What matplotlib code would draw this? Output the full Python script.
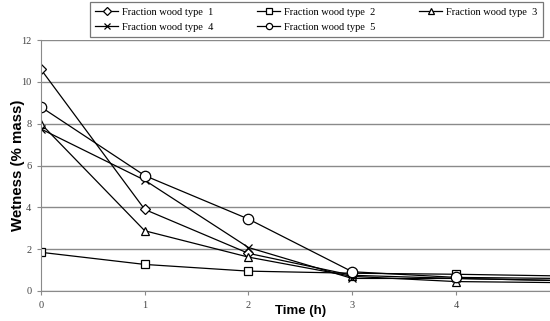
import matplotlib
matplotlib.use("Agg")
import matplotlib.pyplot as plt

# 数据（从图上读出来的估计值）
time_h = [0, 1, 2, 3, 4, 5]
type1 = [10.6, 3.9, 1.8, 0.75, 0.6, 0.5]
type2 = [1.85, 1.27, 0.95, 0.85, 0.8, 0.72]
type3 = [8.0, 2.88, 1.62, 0.7, 0.45, 0.4]
type4 = [7.75, 5.3, 2.08, 0.6, 0.6, 0.5]
type5 = [8.8, 5.52, 3.44, 0.92, 0.65, 0.6]
labels = ["Fraction wood type  1", "Fraction wood type  2", "Fraction wood type  3",
          "Fraction wood type  4", "Fraction wood type  5"]
markers = ["D", "s", "^", "x", "o"]
msizes = [5, 6, 6, 6, 7.5]
y_ticks = [0, 2, 4, 6, 8, 10, 12]
x_ticks = [0, 1, 2, 3, 4]

fig = plt.figure(figsize=(5.5, 3.21), dpi=100)
ax = fig.add_axes([0.0745, 0.0935, 0.9255, 0.7815])

series = [type1, type2, type3, type4, type5]
handles = []
for ys, lab, mk, ms in zip(series, labels, markers, msizes):
    h, = ax.plot(time_h, ys, color="black", lw=0.9, marker=mk, ms=ms,
                 mfc="white", mec="black", mew=0.9, label=lab)
    handles.append(h)

ax.set_xlim(0, 4.906)
ax.set_ylim(0, 12)
ax.set_yticks(y_ticks)
ax.set_xticks(x_ticks)
ax.yaxis.grid(True, color="#8a8a8a", lw=1.0)
ax.set_axisbelow(True)
for s in ["top", "right"]:
    ax.spines[s].set_visible(False)
ax.spines["left"].set_color("#8a8a8a")
ax.spines["bottom"].set_color("#8a8a8a")
ax.tick_params(axis="both", direction="out", length=3, color="#8a8a8a",
               labelsize=7.5, labelcolor="#444444", pad=4)
for t in ax.get_xticklabels() + ax.get_yticklabels():
    t.set_family("Liberation Serif")

ax.set_ylabel("Wetness (% mass)", family="Liberation Sans", fontweight="bold",
              fontsize=10.8)
ax.yaxis.set_label_coords(-0.031, 0.5)
ax.set_xlabel("Time (h)", family="Liberation Sans", fontweight="bold",
              fontsize=9.5)
ax.xaxis.set_label_coords(0.509, -0.056)

# 图例：3 列，按行排列 -> 调整顺序
order = [0, 3, 1, 4, 2]
leg = fig.legend([handles[i] for i in order], [labels[i] for i in order],
                 ncol=3, loc="upper left", bbox_to_anchor=(0.164, 0.893, 0.823, 0.1),
                 mode="expand", frameon=True, fancybox=False, handlelength=2.2,
                 handletextpad=0.4, borderaxespad=0, borderpad=0.5, columnspacing=1.0,
                 labelspacing=0.55, prop={"family": "Liberation Serif", "size": 7.5})
leg.get_frame().set_edgecolor("#555555")
leg.get_frame().set_linewidth(0.9)
for h in leg.legend_handles:
    h.set_markersize(4.5)

fig.savefig("out.png", dpi=100)
